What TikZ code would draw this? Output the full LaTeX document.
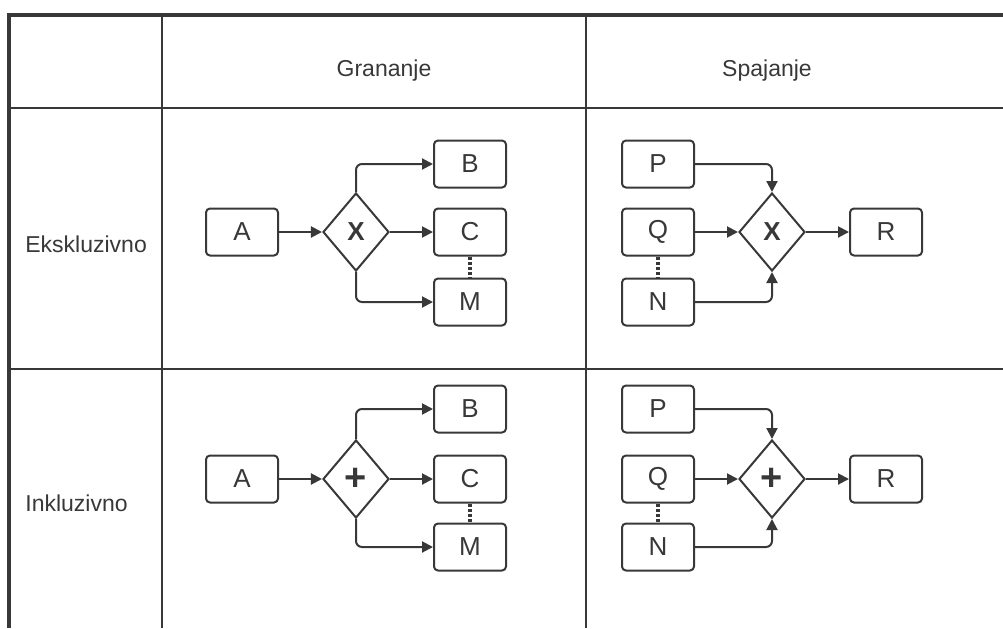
\documentclass[tikz,border=0pt]{standalone}
\usepackage{fontspec}
\setmainfont{Liberation Sans}
\usetikzlibrary{arrows.meta,positioning,shapes.geometric}

\colorlet{ink}{black!78}
\tikzset{
  task/.style={draw, rounded corners=2pt, minimum width=36pt, minimum height=23.5pt,
               line width=1pt, font=\fontsize{13}{15}\selectfont},
  gate/.style={draw, diamond, inner sep=0pt, minimum width=33pt, minimum height=39pt,
               line width=1pt, font=\fontsize{13}{15}\selectfont\bfseries},
  flow/.style={->, line width=1pt, rounded corners=3pt},
  more/.style={line width=1.6pt, dash pattern=on 1.6pt off 1pt},
  rule/.style={line width=1.4pt},
  frame/.style={line width=2pt},
  headtext/.style={anchor=base, inner sep=0pt, font=\fontsize{11.5}{14}\selectfont}
}

\begin{document}
\begin{tikzpicture}[x=0.5pt, y=-0.5pt, >={Triangle[length=5.5pt,width=5.5pt]},
                    node distance=57pt, color=ink]
  \useasboundingbox (0,0) rectangle (1003,628);
  % table
  \draw[frame] (1003,15) -- (9,15) -- (9,628);
  \draw[rule] (9,108) -- (1003,108)
              (9,369) -- (1003,369)
              (162,15) -- (162,628)
              (586,15) -- (586,628);
  \node (gran) [headtext] at (384,76) {Grananje};
  \node (spaj) [headtext] at (767,76) {Spajanje};
  \node (eksk) [headtext, anchor=base west] at (25,252) {Ekskluzivno};
  \node (inkl) [headtext, anchor=base west] at (25,511) {Inkluzivno};

  % exclusive split
  \node (A1) [task] at (242,232) {A};
  \node (X1) [gate, right of=A1] {X};
  \node (C1) [task, right of=X1] {C};
  \node (B1) [task, above of=C1, node distance=34pt] {B};
  \node (M1) [task, below of=C1, node distance=35pt] {M};
  \draw[flow] (A1) -- (X1);
  \draw[flow] (X1) -- (C1);
  \draw[flow] (X1.north) |- (B1);
  \draw[flow] (X1.south) |- (M1);
  \draw[more] (C1) -- (M1);

  % exclusive join
  \node (Q1) [task] at (658,232) {Q};
  \node (P1) [task, above of=Q1, node distance=34pt] {P};
  \node (N1) [task, below of=Q1, node distance=35pt] {N};
  \node (Y1) [gate, right of=Q1] {X};
  \node (R1) [task, right of=Y1] {R};
  \draw[flow] (P1) -| (Y1.north);
  \draw[flow] (Q1) -- (Y1);
  \draw[flow] (N1) -| (Y1.south);
  \draw[flow] (Y1) -- (R1);
  \draw[more] (Q1) -- (N1);

  % inclusive split
  \node (A2) [task] at (242,479) {A};
  \node (X2) [gate, right of=A2] {\fontsize{19}{19}\selectfont +};
  \node (C2) [task, right of=X2] {C};
  \node (B2) [task, above of=C2, node distance=35pt] {B};
  \node (M2) [task, below of=C2, node distance=34pt] {M};
  \draw[flow] (A2) -- (X2);
  \draw[flow] (X2) -- (C2);
  \draw[flow] (X2.north) |- (B2);
  \draw[flow] (X2.south) |- (M2);
  \draw[more] (C2) -- (M2);

  % inclusive join
  \node (Q2) [task] at (658,479) {Q};
  \node (P2) [task, above of=Q2, node distance=35pt] {P};
  \node (N2) [task, below of=Q2, node distance=34pt] {N};
  \node (Y2) [gate, right of=Q2] {\fontsize{19}{19}\selectfont +};
  \node (R2) [task, right of=Y2] {R};
  \draw[flow] (P2) -| (Y2.north);
  \draw[flow] (Q2) -- (Y2);
  \draw[flow] (N2) -| (Y2.south);
  \draw[flow] (Y2) -- (R2);
  \draw[more] (Q2) -- (N2);
\end{tikzpicture}
\end{document}
